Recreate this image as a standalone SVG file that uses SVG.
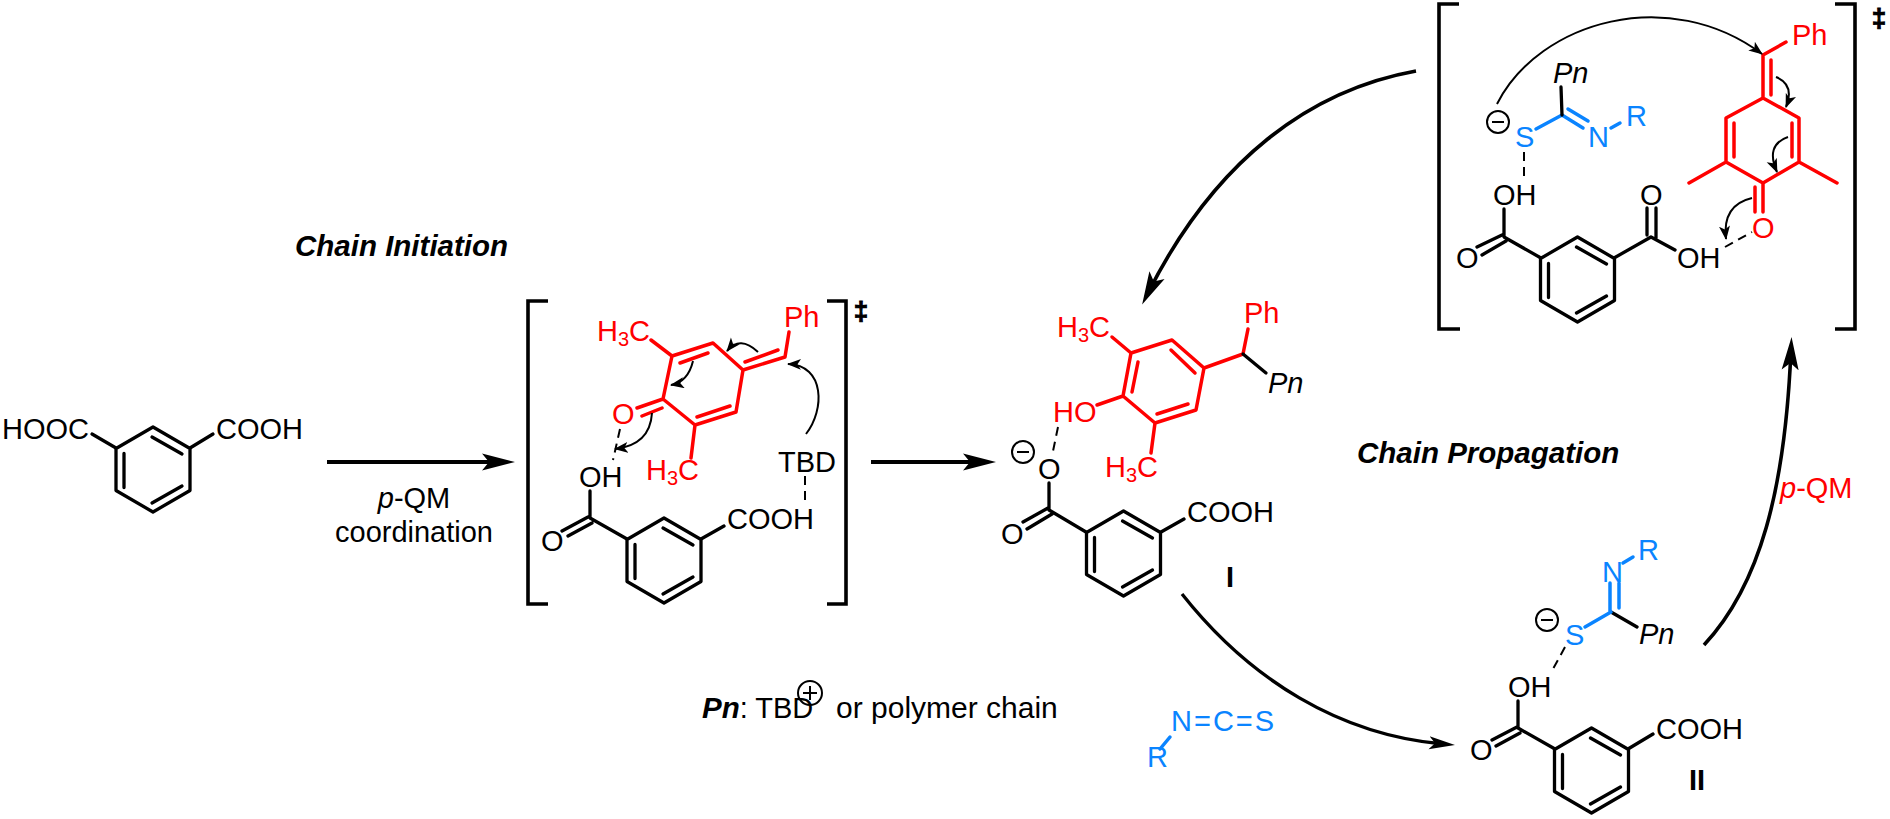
<svg xmlns="http://www.w3.org/2000/svg" width="1890" height="819" viewBox="0 0 1890 819">
<style>
text{font-family:"Liberation Sans",Arial,sans-serif;font-size:29px;fill:#000}
.r{fill:#f00}.b{fill:#0a84ff}
.it{font-style:italic}.bi{font-style:italic;font-weight:bold;font-size:29.5px}.bd{font-weight:bold}
.dg{font-weight:bold;font-size:26px;stroke:#000;stroke-width:1}
.l{stroke:#000;stroke-width:3.3;fill:none;stroke-linecap:round;stroke-linejoin:round}
.lr{stroke:#f00;stroke-width:3.5;fill:none;stroke-linecap:round;stroke-linejoin:round}
.lb{stroke:#0a84ff;stroke-width:3.5;fill:none;stroke-linecap:round;stroke-linejoin:round}
.d{stroke:#000;stroke-width:2;fill:none;stroke-dasharray:9 6}
.t{stroke:#000;stroke-width:2;fill:none}
.a{stroke:#000;stroke-width:4;fill:none}
.c{stroke:#000;stroke-width:3.6;fill:none}
.m{stroke:#000;stroke-width:3.3;fill:none}
.k{stroke:#000;stroke-width:3.6;fill:none}
.s3{font-size:20px}
</style>
<defs>
<marker id="big" markerUnits="userSpaceOnUse" markerWidth="36" markerHeight="20" refX="20" refY="9" orient="auto"><path d="M33,9 L0,0.5 L7,9 L0,17.5 Z" fill="#000"/></marker>
<marker id="med" markerUnits="userSpaceOnUse" markerWidth="30" markerHeight="16" refX="14" refY="7" orient="auto"><path d="M26,7 L0,0.5 L6,7 L0,13.5 Z" fill="#000"/></marker>
<marker id="sm" markerUnits="userSpaceOnUse" markerWidth="16" markerHeight="12" refX="13" refY="5.5" orient="auto"><path d="M14,5.5 L0,0 L3.5,5.5 L0,11 Z" fill="#000"/></marker>
<g id="ring" class="l"><path d="M0,-42.5 L37,-21 L37,21 L0,42.5 L-37,21 L-37,-21 Z"/><path d="M-1,-32.5 L29,-15.5 M-29,-16 V18 M29,16.5 L-1,33.5"/></g>
<g id="neg" class="t"><circle r="11"/><path d="M-6,0 H6"/></g>
</defs>

<g id="connectors">
<line class="a" x1="327" y1="462" x2="502" y2="462" marker-end="url(#big)"/>
<line class="a" x1="871" y1="462" x2="983" y2="462" marker-end="url(#big)"/>
<path class="c" d="M1416,71 C1310,90 1215,160 1148,293" marker-end="url(#big)"/>
<path class="m" d="M1182,594 C1250,680 1340,735 1443,744" marker-end="url(#med)"/>
<path class="c" d="M1704,645 C1760,585 1785,490 1791,350" marker-end="url(#big)"/>
</g>

<g id="start-acid">
<use href="#ring" x="153" y="469.5"/>
<path class="l" d="M116,448 L92,434 M190,448 L213,434"/>
<text x="2" y="439">HOOC</text><text x="216" y="439">COOH</text>
</g>

<g id="ts1">
<path class="k" d="M548,301 H528 V604 H548 M827,301 H846 V604 H827"/>
<text class="dg" x="861" y="320" text-anchor="middle">‡</text>
<use href="#ring" x="664" y="560.5"/>
<path class="l" d="M627,539 L590,518 V491 M588,517 L562,531 M592,523 L568,536 M701,539 L724,526"/>
<text x="579" y="487">OH</text><text x="727" y="529">COOH</text><text x="778" y="472">TBD</text>
<text x="541" y="551">O</text>
<path class="lr" d="M672,356 L713,343 L743,370 L736,412 L695,425 L663,399 Z M680,363 L708,353 M730,406 L697,417 M743,370 L785,357 L789,332 M745,362 L778,350 M663,399 L637,408 M662,408 L642,416 M651,340 L672,356 M695,425 L691,458"/>
<text class="r" x="612" y="424">O</text>
<text class="r" x="597" y="341">H<tspan class="s3" dy="5">3</tspan><tspan dy="-5">C</tspan></text>
<text class="r" x="646" y="480">H<tspan class="s3" dy="5">3</tspan><tspan dy="-5">C</tspan></text>
<text class="r" x="784" y="327">Ph</text>
<path class="t" d="M693,361 Q688,382 671,385" marker-end="url(#sm)"/>
<path class="t" d="M652,413 Q650,445 615,449" marker-end="url(#sm)"/>
<path class="t" d="M758,352 Q740,335 727,351" marker-end="url(#sm)"/>
<path class="t" d="M806,434 C825,410 825,365 788,364" marker-end="url(#sm)"/>
<path class="d" d="M620,429 L613,460 M805,476 V503"/>
</g>

<g id="intermediate-I">
<use href="#ring" x="1123.5" y="553.5"/>
<path class="l" d="M1086,532 L1049,510 V483 M1048,508 L1023,522 M1052,514 L1027,529 M1161,532 L1184,519"/>
<text x="1038" y="479">O</text><text x="1001" y="544">O</text><text x="1187" y="522">COOH</text>
<use href="#neg" x="1023" y="452"/>
<path class="d" d="M1058,427 L1052,456"/>
<text class="bd" x="1230" y="587" text-anchor="middle">I</text>
<path class="lr" d="M1131,353 L1172,340 L1204,368 L1196,410 L1155,423 L1123,396 Z M1138,362 L1132,392 M1171,350 L1195,373 M1188,404 L1157,414 M1123,396 L1097,405 M1112,337 L1131,353 M1155,423 L1151,453 M1204,368 L1243,354 L1248,329"/>
<path class="l" d="M1243,354 L1266,373"/>
<text class="r" x="1053" y="422">HO</text>
<text class="r" x="1057" y="337">H<tspan class="s3" dy="5">3</tspan><tspan dy="-5">C</tspan></text>
<text class="r" x="1105" y="477">H<tspan class="s3" dy="5">3</tspan><tspan dy="-5">C</tspan></text>
<text class="r" x="1244" y="323">Ph</text>
<text class="it" x="1268" y="393">Pn</text>
</g>

<g id="intermediate-II">
<use href="#ring" x="1591.5" y="770.5"/>
<path class="l" d="M1555,749 L1518,728 V701 M1517,727 L1492,740 M1520,733 L1496,746 M1628,749 L1653,734 M1611,612 L1637,627"/>
<text x="1508" y="697">OH</text><text x="1470" y="760">O</text><text x="1656" y="739">COOH</text>
<text class="bd" x="1697" y="790" text-anchor="middle">II</text>
<use href="#neg" x="1547" y="620"/>
<path class="d" d="M1565,647 L1553,669"/>
<path class="lb" d="M1585,627 L1611,612 M1610,612 V583 M1619,608 V583 M1623,563 L1633,557"/>
<text class="b" x="1565" y="645">S</text><text class="b" x="1602" y="582">N</text><text class="b" x="1638" y="560">R</text>
<text class="it" x="1639" y="644">Pn</text>
</g>

<g id="ts2">
<path class="k" d="M1459,4 H1439 V329 H1460 M1835,4 H1855 V329 H1835"/>
<text class="dg" x="1879" y="27" text-anchor="middle">‡</text>
<use href="#ring" x="1577.5" y="279.5"/>
<path class="l" d="M1541,258 L1504,237 V209 M1502,235 L1477,247 M1506,241 L1482,255 M1614,258 L1651,237 L1675,250 M1647,208 V235 M1656,208 V238"/>
<text x="1493" y="205">OH</text><text x="1456" y="268">O</text><text x="1640" y="205">O</text><text x="1677" y="268">OH</text>
<path class="lr" d="M1763,98 L1726,118 V162 L1763,183 L1799,162 V118 Z M1734,123 V157 M1792,123 V157 M1726,162 L1689,183 M1799,162 L1837,183 M1763,98 V55 L1786,42 M1771,95 V60 M1763,183 V212 M1755,187 V212"/>
<text class="r" x="1752" y="238">O</text>
<text class="r" x="1792" y="45">Ph</text>
<path class="t" d="M1497,104 C1540,20 1670,-15 1762,54" marker-end="url(#sm)"/>
<path class="t" d="M1776,77 Q1795,85 1786,107" marker-end="url(#sm)"/>
<path class="t" d="M1788,137 Q1765,145 1777,172" marker-end="url(#sm)"/>
<path class="t" d="M1752,198 Q1722,205 1726,239" marker-end="url(#sm)"/>
<path class="d" d="M1524,152 V177 M1725,247 L1752,232"/>
<use href="#neg" x="1498" y="122"/>
<path class="lb" d="M1536,129 L1562,115 L1583,128 M1568,109 L1588,121 M1611,128 L1620,123"/>
<path class="l" d="M1562,115 L1561,87"/>
<text class="b" x="1515" y="147">S</text><text class="b" x="1588" y="147">N</text><text class="b" x="1626" y="126">R</text>
<text class="it" x="1553" y="83">Pn</text>
</g>

<g id="reagent">
<text class="b" x="1171" y="731" style="letter-spacing:2px">N=C=S</text>
<path class="lb" d="M1170,737 L1160,749"/>
<text class="b" x="1147" y="767">R</text>
</g>

<g id="labels">
<text class="bi" x="295" y="256">Chain Initiation</text>
<text class="bi" x="1357" y="463">Chain Propagation</text>
<text x="414" y="508" text-anchor="middle"><tspan class="it">p</tspan>-QM</text>
<text x="414" y="542" text-anchor="middle">coordination</text>
<text x="702" y="718"><tspan class="bi">Pn</tspan>: TBD</text>
<g class="t" transform="translate(810,693)"><circle r="12"/><path d="M-7,0 H7 M0,-7 V7"/></g>
<text x="836" y="718" style="font-size:30px">or polymer chain</text>
<text class="r" x="1780" y="498"><tspan class="it">p</tspan>-QM</text>
</g>
</svg>
